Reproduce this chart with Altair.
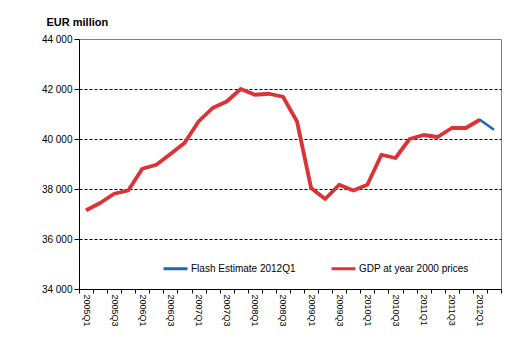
import altair as alt
import pandas as pd

quarters = [f"{y}Q{q}" for y in range(2005, 2013) for q in range(1, 5)][:30]

gdp = [37150, 37440, 37810, 37940, 38810, 38970, 39400, 39840,
       40700, 41240, 41500, 42000, 41770, 41810, 41690, 40700,
       38040, 37600, 38170, 37940, 38170, 39370, 39240, 40000,
       40160, 40080, 40440, 40440, 40770]

flash = [37150, 37440, 37810, 37940, 38810, 38970, 39400, 39840,
         40700, 41240, 41500, 42000, 41770, 41810, 41690, 40700,
         38040, 37600, 38170, 37940, 38170, 39370, 39240, 40000,
         40160, 40080, 40440, 40440, 40770, 40370]

s_flash = "Flash Estimate 2012Q1"
s_gdp = "GDP at year 2000 prices"
y_ticks = [34000, 36000, 38000, 40000, 42000, 44000]

df_flash = pd.DataFrame({"quarter": quarters[:len(flash)], "value": flash, "series": s_flash})
df_gdp = pd.DataFrame({"quarter": quarters[:len(gdp)], "value": gdp, "series": s_gdp})

FONT = "Liberation Sans"

x_enc = alt.X(
    "quarter:O",
    sort=quarters,
    scale=alt.Scale(type="band", domain=quarters, paddingInner=0, paddingOuter=0),
    axis=alt.Axis(
        title=None,
        labelAngle=90,
        labelAlign="left",
        labelBaseline="middle",
        labelFontSize=9,
        labelFont=FONT,
        labelColor="black",
        labelPadding=1,
        labelOverlap=False,
        labelExpr="indexof(['1','3'], substring(datum.value, 5, 6)) >= 0 ? datum.value : ''",
        tickBand="extent",
        tickSize=4,
        tickColor="black",
        domainColor="black",
        grid=False,
    ),
)

y_enc = alt.Y(
    "value:Q",
    scale=alt.Scale(domain=[34000, 44000], nice=False, zero=False),
    axis=alt.Axis(
        values=y_ticks,
        title="EUR million",
        titleAngle=0,
        titleAlign="left",
        titleBaseline="alphabetic",
        titleX=-33,
        titleY=-14,
        titleFont=FONT,
        titleFontSize=11,
        titleFontWeight="bold",
        titleColor="black",
        labelExpr="replace(format(datum.value, ','), ',', ' ')",
        labelFont=FONT,
        labelFontSize=10,
        labelColor="black",
        labelPadding=2,
        tickSize=5,
        tickColor="black",
        domainColor="black",
        grid=True,
        gridColor="black",
        gridDash=[3, 2],
        gridWidth=1,
        gridOpacity=alt.condition("datum.value >= 44000 || datum.value <= 34000", alt.value(0), alt.value(1)),
    ),
)

color_scale = alt.Scale(domain=[s_flash, s_gdp], range=["#1F66B8", "#DC3238"])

legend = alt.Legend(
    title=None,
    orient="none",
    direction="horizontal",
    legendX=83,
    legendY=216,
    symbolType="stroke",
    symbolSize=576,
    symbolStrokeWidth=3,
    labelFont=FONT,
    labelFontSize=10,
    labelColor="black",
    labelOffset=2,
    columnPadding=29,
    padding=0,
)

flash_line = alt.Chart(df_flash).mark_line(strokeWidth=2.5, strokeJoin="round").encode(
    x=x_enc, y=y_enc,
    color=alt.Color("series:N", scale=color_scale, legend=legend),
)

gdp_line = alt.Chart(df_gdp).mark_line(strokeWidth=3.8, strokeJoin="round").encode(
    x=x_enc, y=y_enc,
    color=alt.Color("series:N", scale=color_scale, legend=legend),
)

chart = alt.layer(flash_line, gdp_line).properties(
    width=422,
    height=250,
    autosize=alt.AutoSizeParams(type="none"),
    padding={"left": 71, "top": 31, "right": 12, "bottom": 45},
    background="white",
).configure_view(stroke="#808080", strokeWidth=1)

chart.save("out.html", embed_options={"renderer": "svg", "actions": False})
